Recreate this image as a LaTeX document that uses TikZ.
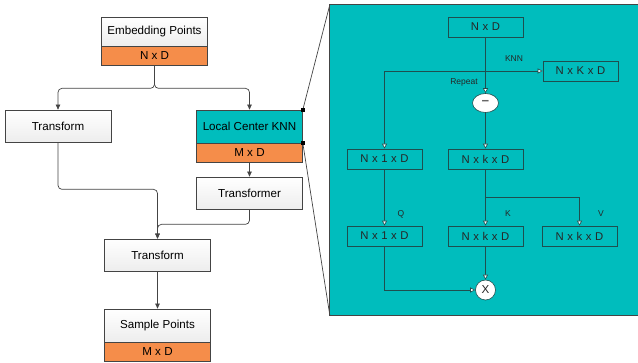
\documentclass[tikz,border=0pt]{standalone}
\usepackage{fontspec}
\setmainfont{Liberation Sans}
\usetikzlibrary{arrows.meta,shapes.geometric,calc}
\definecolor{tealc}{HTML}{00BDBD}
\definecolor{orangec}{HTML}{F58D4A}
\definecolor{linec}{HTML}{444444}
\definecolor{innerc}{HTML}{1E4F4F}
\begin{document}
\begin{tikzpicture}[x=1pt,y=-1pt,
  font=\fontsize{11.6}{13}\selectfont,
  wbox/.style={draw=linec, line width=0.7pt, top color=white, bottom color=black!7, minimum width=106pt, minimum height=32pt, inner sep=0pt},
  obox/.style={draw=linec, line width=0.7pt, fill=orangec, minimum width=106pt, minimum height=19pt, inner sep=0pt},
  tbox/.style={draw=linec, line width=0.7pt, fill=tealc, minimum width=106pt, minimum height=33pt, inner sep=0pt},
  ibox/.style={draw=innerc, line width=0.6pt, fill=tealc, text=black!85, minimum width=75pt, minimum height=20pt, inner sep=0pt, font=\fontsize{11.3}{13}\selectfont\addfontfeatures{LetterSpace=4}},
  arr/.style={draw=linec, line width=0.7pt, rounded corners=4pt, -{Triangle[length=5pt,width=4.5pt]}},
  oarr/.style={draw=innerc, line width=0.6pt, -{Triangle[open,fill=white,length=5pt,width=5pt]}},
  lbl/.style={font=\fontsize{8.5}{9}\selectfont, text=black!85, inner sep=0pt},
]
\useasboundingbox (0,0) rectangle (638,363);

% ---------- right panel ----------
\node[fill=tealc, minimum width=308pt, minimum height=310pt, inner sep=0pt] (panel) at (484,160) {};
\draw[linec, line width=0.8pt] (panel.north east) -- (panel.north west) -- (panel.south west) -- (panel.south east);

% ---------- left flow ----------
\node[wbox, minimum height=29pt] (ep) at (154.5,31.5) {Embedding Points};
\node[obox] (epd) at (154.5,55.5) {N x D};
\node[wbox] (tl) at (58,126) {Transform};
\node[tbox] (knn) at (249.5,126.5) {Local Center KNN};
\node[obox] (knnd) at (249.5,152.5) {M x D};
\node[wbox] (tf) at (249.5,193) {Transformer};
\node[wbox] (t2) at (157.5,255) {Transform};
\node[wbox, minimum height=33pt] (sp) at (157.5,325.5) {Sample Points};
\node[obox] (spd) at (157.5,351.5) {M x D};

\draw[arr] (epd.south) -- ++(0,23) -| (tl.north);
\draw[arr] (epd.south) -- ++(0,23) -| (knn.north);
\draw[arr] (knnd.south) -- (tf.north);
\draw[arr] (tl.south) -- ++(0,47) -| (t2.north);
\draw[arr] (tf.south) -- ++(0,15) -| (t2.north);
\draw[arr] (t2.south) -- (sp.north);

% zoom connectors
\draw[linec, line width=0.7pt] (knn.north east) -- (panel.north west);
\draw[linec, line width=0.7pt] (knn.south east) -- (panel.south west);
\fill[black] ($(knn.north east)+(-2,-2)$) rectangle ++(4,4);
\fill[black] ($(knn.south east)+(-2,-2)$) rectangle ++(4,4);

% ---------- inner diagram ----------
\node[ibox] (nd) at (485.5,27) {N x D};
\node[ibox] (nkd) at (580.5,71) {N x K x D};
\node[ellipse, draw=innerc, line width=0.6pt, fill=white, minimum width=26pt, minimum height=19pt, inner sep=0pt, font=\fontsize{13}{13}\bfseries\selectfont, text=black!60] (minus) at (485.5,103) {−};
\node[ibox] (n1a) at (384.5,159) {N x 1 x D};
\node[ibox] (nka) at (485.5,159) {N x k x D};
\node[ibox] (n1b) at (384.5,236) {N x 1 x D};
\node[ibox] (nkb) at (485.5,236) {N x k x D};
\node[ibox] (nkc) at (579.5,236) {N x k x D};
\node[circle, draw=innerc, line width=0.6pt, fill=white, minimum size=20pt, inner sep=0pt, text=black!85] (times) at (485.5,290) {X};

\coordinate (s1) at (nd.south |- nkd.west);
\coordinate (s2) at ($(nka.south)+(0,28)$);

\draw[oarr] (nd.south) -- (minus.north);
\draw[oarr] (s1) -- (nkd.west);
\draw[oarr] (s1) -| (n1a.north);
\draw[oarr] (minus.south) -- (nka.north);
\draw[oarr] (n1a.south) -- (n1b.north);
\draw[oarr] (nka.south) -- (nkb.north);
\draw[oarr] (s2) -| (nkc.north);
\draw[oarr] (nkb.south) -- (times.north);
\draw[oarr] (n1b.south) |- (times.west);

\node[lbl] (lknn) at (514,59) {KNN};
\node[lbl] (lrep) at (464,82) {Repeat};
\node[lbl] (lq) at (401,214) {Q};
\node[lbl] (lk) at (508,214) {K};
\node[lbl] (lv) at (601,214) {V};
\end{tikzpicture}
\end{document}
